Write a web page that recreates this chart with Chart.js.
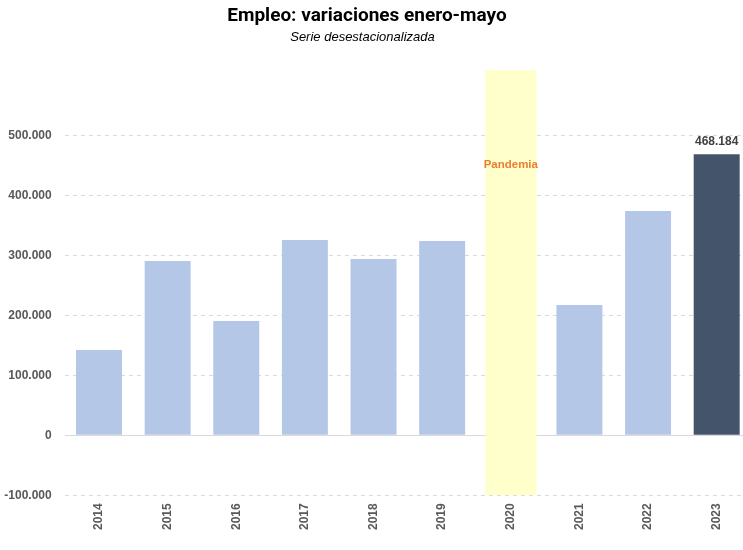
<!DOCTYPE html>
<html>
<head>
<meta charset="utf-8">
<script src="https://cdn.jsdelivr.net/npm/chart.js@4/dist/chart.umd.min.js"></script>
<style>
  html, body { margin: 0; padding: 0; background: #fff; overflow: hidden; width: 743px; height: 550px; }
  #wrap { position: relative; width: 751px; height: 550px; }
  #title { position: absolute; left: 0; top: 5px; width: 734px; text-align: center; line-height: 19px;
    font: bold 19px Roboto, "Liberation Sans", Arial, sans-serif; color: #000; line-height: 19px; }
  #subtitle { position: absolute; left: 0; top: 29.7px; width: 725px; text-align: center;
    font: italic 13px "Liberation Sans", Arial, sans-serif; color: #000; line-height: 13px; }
  canvas { position: absolute; left: 0; top: 0; }
</style>
</head>
<body>
<div id="wrap">
  <canvas id="c" width="751" height="550"></canvas>
  <div id="title">Empleo: variaciones enero-mayo</div>
  <div id="subtitle">Serie desestacionalizada</div>
</div>
<script>
const categories = ["2014","2015","2016","2017","2018","2019","2020","2021","2022","2023"];
const empleo = [142200, 290500, 190500, 325500, 294000, 323800, null, 217200, 373800, 468184];
const pandemiaRange = [null, null, null, null, null, null, [-100000, 608800], null, null, null];
const tickValues = [-100000, 0, 100000, 200000, 300000, 400000, 500000];
const pandemiaLabel = "Pandemia";
const pandemiaLabelValue = 450000;
const highlightIndex = 9;

const fmt = v => {
  const s = Math.abs(Math.round(v)).toString().replace(/\B(?=(\d{3})+(?!\d))/g, ".");
  return (v < 0 ? "-" : "") + s;
};

const barColors = empleo.map((v, i) => i === highlightIndex ? "#44546A" : "#B4C7E7");

const labelsPlugin = {
  id: "labelsPlugin",
  afterDatasetsDraw(chart) {
    const ctx = chart.ctx;
    const y = chart.scales.y;
    const pMeta = chart.getDatasetMeta(1);
    const pIdx = pandemiaRange.findIndex(d => d !== null);
    const pEl = pMeta.data[pIdx];
    ctx.save();
    ctx.font = "bold 11.5px 'Liberation Sans', Arial, sans-serif";
    ctx.fillStyle = "#ED7D31";
    ctx.textAlign = "center";
    ctx.textBaseline = "middle";
    ctx.fillText(pandemiaLabel, pEl.x, y.getPixelForValue(pandemiaLabelValue));
    const m = chart.getDatasetMeta(0);
    const el = m.data[highlightIndex];
    ctx.font = "bold 12px 'Liberation Sans', Arial, sans-serif";
    ctx.fillStyle = "#404040";
    ctx.textBaseline = "alphabetic";
    ctx.fillText(fmt(empleo[highlightIndex]), el.x, el.y - 9.5);
    ctx.restore();
  }
};

new Chart(document.getElementById("c"), {
  type: "bar",
  data: {
    labels: categories,
    datasets: [
      {
        label: "Empleo",
        data: empleo,
        backgroundColor: barColors,
        barPercentage: 0.67,
        categoryPercentage: 1,
        grouped: false,
        order: 1
      },
      {
        label: "Pandemia",
        data: pandemiaRange,
        backgroundColor: "#FFFFCC",
        barPercentage: 0.745,
        categoryPercentage: 1,
        grouped: false,
        order: 2
      }
    ]
  },
  options: {
    responsive: false,
    animation: false,
    devicePixelRatio: 1,
    layout: { padding: { top: 70, right: 0, left: 0, bottom: 0 } },
    plugins: {
      legend: { display: false },
      title: { display: false },
      tooltip: { enabled: false }
    },
    scales: {
      x: {
        grid: { display: false, drawTicks: false },
        border: { display: false },
        ticks: {
          color: "#595959",
          font: { family: "'Liberation Sans', Arial, sans-serif", size: 12, weight: "bold" },
          minRotation: 90,
          maxRotation: 90,
          padding: 8,
          autoSkip: false
        },
        afterFit(scale) { scale.height = 54.7; }
      },
      y: {
        min: -100000,
        max: 608800,
        afterBuildTicks(scale) {
          scale.ticks = tickValues.map(v => ({ value: v }));
        },
        grid: {
          drawTicks: false,
          color: "#D9D9D9",
          lineWidth: 1
        },
        border: {
          display: false,
          dash: ctx => (ctx.tick && ctx.tick.value === 0) ? [] : [4, 4]
        },
        ticks: {
          color: "#595959",
          font: { family: "'Liberation Sans', Arial, sans-serif", size: 12, weight: "bold" },
          padding: 13,
          callback: v => fmt(v)
        },
        afterFit(scale) { scale.width = 64.7; }
      }
    }
  },
  plugins: [labelsPlugin]
});
</script>
</body>
</html>
